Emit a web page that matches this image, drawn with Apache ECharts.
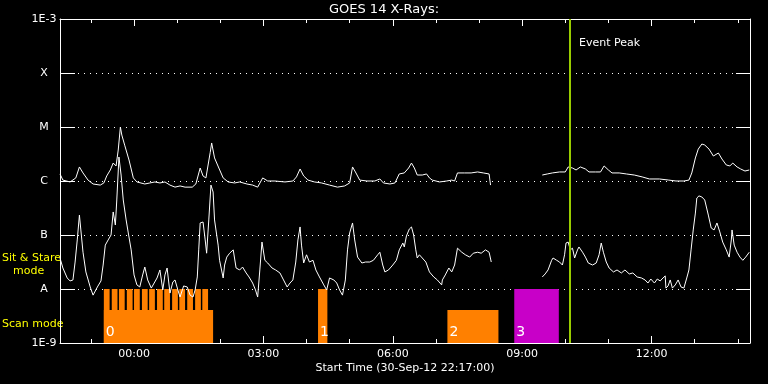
<!DOCTYPE html>
<html>
<head>
<meta charset="utf-8">
<script src="https://cdn.jsdelivr.net/npm/echarts@6/dist/echarts.min.js"></script>
<style>html,body{margin:0;padding:0;background:#000;}#c{width:768px;height:384px;}</style>
</head>
<body>
<div id="c"></div>
<script>
// Time in minutes relative to 01-Oct-12 00:00 (start 30-Sep-12 22:17)
const xMin = -103, xMax = 857;
const majorTicks = [0, 180, 360, 540, 720];
const majorLabels = ['00:00', '03:00', '06:00', '09:00', '12:00'];
const hourTicks = [-60, 0, 60, 120, 180, 240, 300, 360, 420, 480, 540, 600, 660, 720, 780, 840];
const yLabels = {'-3': '1E-3', '-4': 'X', '-5': 'M', '-6': 'C', '-7': 'B', '-8': 'A', '-9': '1E-9'};

// Long channel (1-8 A)
const longT = [
  -103, -99, -89, -81, -76, -71, -64, -57, -47, -42,
  -38, -33, -29, -25, -22, -19, -17, -13, -7, -1,
  4, 15, 22, 29, 36, 43, 50, 57, 64, 71,
  81, 86, 92, 96, 100, 106, 108, 112, 118, 124,
  131, 140, 147, 157, 165, 172, 179, 186, 196, 210,
  221, 226, 231, 236, 242, 251, 261, 272, 283, 293,
  300, 304, 308, 314, 324, 335, 342, 347, 356, 363,
  369, 376, 382, 386, 390, 394, 401, 407, 411, 415,
  425, 435, 442, 446, 450, 460, 469, 478, 486, 494,
  496, 530, 568, 575, 582, 592, 600, 604, 610, 615,
  621, 628, 633, 642, 649, 654, 660, 665, 675, 685,
  696, 707, 717, 731, 744, 754, 765, 772, 776, 781,
  785, 790, 794, 800, 806, 813, 818, 824, 829, 833,
  839, 844, 850, 856];
const longV = [
  1.35e-6, 1.04e-6, 9.6e-7, 1.14e-6, 1.82e-6, 1.41e-6, 1.04e-6, 8.8e-7, 8.4e-7, 9.2e-7,
  1.24e-6, 1.6e-6, 2.15e-6, 1.9e-6, 3.75e-6, 1.0e-5, 7.1e-6, 4.6e-6, 2.45e-6, 1.14e-6,
  9.6e-7, 8.8e-7, 9.2e-7, 9.6e-7, 9.2e-7, 9.6e-7, 8.4e-7, 7.7e-7, 8.1e-7, 7.7e-7,
  7.7e-7, 8.8e-7, 1.74e-6, 1.24e-6, 1.14e-6, 3.4e-6, 5.06e-6, 2.67e-6, 1.74e-6, 1.14e-6,
  9.6e-7, 9.2e-7, 9.6e-7, 8.8e-7, 8.4e-7, 7.7e-7, 1.14e-6, 1.0e-6, 1.0e-6, 9.6e-7,
  1.0e-6, 1.19e-6, 1.67e-6, 1.24e-6, 1.04e-6, 9.6e-7, 9.2e-7, 8.4e-7, 7.7e-7, 8.1e-7,
  9.2e-7, 1.82e-6, 1.47e-6, 1.04e-6, 1.0e-6, 1.0e-6, 1.09e-6, 9.2e-7, 8.8e-7, 9.2e-7,
  1.35e-6, 1.41e-6, 1.74e-6, 2.15e-6, 1.74e-6, 1.29e-6, 1.29e-6, 1.35e-6, 1.14e-6, 1.04e-6,
  9.6e-7, 1.0e-6, 1.04e-6, 1.0e-6, 1.41e-6, 1.41e-6, 1.41e-6, 1.47e-6, 1.41e-6, 1.35e-6,
  8.4e-7, null, 1.29e-6, 1.35e-6, 1.41e-6, 1.47e-6, 1.47e-6, 1.82e-6, 1.74e-6, 1.6e-6,
  1.82e-6, 1.67e-6, 1.47e-6, 1.47e-6, 1.47e-6, 1.9e-6, 1.6e-6, 1.41e-6, 1.41e-6, 1.35e-6,
  1.29e-6, 1.19e-6, 1.09e-6, 1.09e-6, 1.04e-6, 1.0e-6, 1.0e-6, 1.04e-6, 1.41e-6, 2.67e-6,
  3.9e-6, 4.84e-6, 4.64e-6, 3.9e-6, 2.9e-6, 3.3e-6, 2.55e-6, 1.98e-6, 1.9e-6, 2.15e-6,
  1.82e-6, 1.67e-6, 1.53e-6, 1.6e-6];

// Short channel (0.5-4 A)
const shortT = [
  -103, -99, -93, -89, -85, -82, -79, -76, -74, -71,
  -67, -61, -57, -51, -46, -43, -40, -36, -32, -29,
  -26, -24, -21, -18, -15, -11, -8, -4, 0, 4,
  8, 12, 15, 19, 24, 26, 32, 36, 40, 43,
  46, 50, 54, 57, 61, 64, 69, 74, 78, 82,
  85, 88, 90, 92, 96, 99, 101, 104, 107, 110,
  112, 117, 119, 124, 126, 129, 133, 138, 142, 147,
  151, 156, 160, 165, 169, 172, 175, 178, 182, 186,
  192, 197, 203, 208, 213, 217, 221, 225, 228, 231,
  233, 236, 240, 244, 249, 253, 258, 264, 268, 272,
  278, 282, 286, 290, 294, 297, 300, 304, 307, 311,
  317, 322, 328, 333, 339, 342, 346, 349, 354, 360,
  365, 369, 374, 376, 379, 383, 386, 389, 392, 394,
  397, 401, 406, 411, 417, 422, 428, 429, 433, 438,
  442, 446, 450, 456, 461, 467, 472, 478, 483, 489,
  494, 497, 530, 568, 572, 576, 581, 583, 588, 592,
  596, 599, 601, 604, 607, 610, 613, 617, 619, 624,
  628, 632, 638, 643, 647, 650, 653, 657, 661, 667,
  672, 678, 683, 689, 694, 700, 706, 711, 715, 719,
  724, 728, 732, 736, 739, 740, 743, 746, 749, 753,
  757, 761, 765, 769, 772, 775, 778, 781, 783, 786,
  790, 794, 799, 803, 807, 811, 815, 819, 824, 828,
  831, 832, 835, 839, 843, 847, 851, 856];
const shortV = [
  3.75e-8, 2.45e-8, 1.6e-8, 1.41e-8, 1.47e-8, 3.16e-8, 8.1e-8, 2.34e-7, 1.24e-7, 4.8e-8,
  2.07e-8, 1.09e-8, 7.7e-9, 1.09e-8, 1.41e-8, 2.78e-8, 6.5e-8, 8.1e-8, 1.0e-7, 2.67e-7,
  1.53e-7, 4.45e-7, 2.78e-6, 1.29e-6, 4.45e-7, 1.9e-7, 1.09e-7, 5.3e-8, 1.82e-8, 1.19e-8,
  1.09e-8, 1.82e-8, 2.55e-8, 1.47e-8, 1.04e-8, 9.6e-9, 1.6e-8, 2.25e-8, 9.6e-9, 1.82e-8,
  2.45e-8, 8.4e-9, 1.35e-8, 1.47e-8, 9.6e-9, 7.1e-9, 1.14e-8, 1.09e-8, 7.7e-9, 7.1e-9,
  9.6e-9, 1.67e-8, 5.3e-8, 1.67e-7, 1.74e-7, 8.1e-8, 4.6e-8, 1.9e-7, 8.4e-7, 6.25e-7,
  1.9e-7, 6.5e-8, 3.4e-8, 1.6e-8, 2.78e-8, 3.9e-8, 4.6e-8, 5.3e-8, 2.45e-8, 2.25e-8,
  2.55e-8, 1.98e-8, 1.67e-8, 1.29e-8, 9.6e-9, 7.1e-9, 2.25e-8, 7.4e-8, 3.4e-8, 3.03e-8,
  2.45e-8, 2.25e-8, 1.98e-8, 1.47e-8, 1.09e-8, 1.29e-8, 1.47e-8, 3.16e-8, 8.1e-8, 1.41e-7,
  6.5e-8, 3.03e-8, 4.3e-8, 3.16e-8, 3.4e-8, 2.25e-8, 1.67e-8, 1.19e-8, 9.6e-9, 1.6e-8,
  1.47e-8, 1.29e-8, 9.6e-9, 7.7e-9, 1.47e-8, 5.3e-8, 1.09e-7, 1.67e-7, 8.1e-8, 3.9e-8,
  3.03e-8, 3.16e-8, 3.16e-8, 3.4e-8, 4.3e-8, 4.8e-8, 2.78e-8, 2.07e-8, 2.25e-8, 2.78e-8,
  3.4e-8, 5.3e-8, 7.1e-8, 6.0e-8, 9.6e-8, 1.29e-7, 1.41e-7, 1.0e-7, 5.3e-8, 3.75e-8,
  4.3e-8, 3.75e-8, 3.16e-8, 2.07e-8, 1.67e-8, 1.47e-8, 1.19e-8, 1.47e-8, 1.82e-8, 2.45e-8,
  2.07e-8, 2.78e-8, 5.7e-8, 4.8e-8, 4.3e-8, 3.9e-8, 4.6e-8, 4.8e-8, 4.6e-8, 5.3e-8,
  4.8e-8, 3.16e-8, null, 1.67e-8, 1.9e-8, 2.25e-8, 3.4e-8, 3.75e-8, 3.4e-8, 3.16e-8,
  2.78e-8, 4.3e-8, 7.1e-8, 7.4e-8, 5.3e-8, 5.7e-8, 3.75e-8, 5.3e-8, 6.0e-8, 4.8e-8,
  3.9e-8, 3.03e-8, 2.78e-8, 3.03e-8, 4.3e-8, 7.1e-8, 4.8e-8, 3.16e-8, 2.45e-8, 2.07e-8,
  2.25e-8, 1.98e-8, 2.25e-8, 1.9e-8, 1.98e-8, 1.67e-8, 1.6e-8, 1.47e-8, 1.29e-8, 1.53e-8,
  1.29e-8, 1.53e-8, 1.41e-8, 1.6e-8, 1.75e-8, 1.04e-8, 1.14e-8, 1.47e-8, 1.04e-8, 1.19e-8,
  1.47e-8, 1.09e-8, 1.04e-8, 1.6e-8, 2.25e-8, 5.3e-8, 1.24e-7, 2.55e-7, 4.84e-7, 5.3e-7,
  5.06e-7, 4.45e-7, 2.34e-7, 1.35e-7, 1.24e-7, 1.67e-7, 1.14e-7, 7.4e-8, 5.3e-8, 3.9e-8,
  8.1e-8, 1.24e-7, 6.5e-8, 4.8e-8, 3.9e-8, 3.4e-8, 3.9e-8, 4.8e-8];

// Observation mode blocks: start, end, top level, segment number
const blockStart = [-42, -42, -31, -21, -10, 0, 11, 21, 32, 42, 53, 63, 74, 85, 95, 256, 436, 529];
const blockEnd   = [110, -34, -23, -13, -2, 8, 19, 29, 40, 50, 61, 71, 82, 93, 103, 269, 507, 591];
const blockTop   = [4.1e-9, 1e-8, 1e-8, 1e-8, 1e-8, 1e-8, 1e-8, 1e-8, 1e-8, 1e-8, 1e-8, 1e-8, 1e-8, 1e-8, 1e-8, 1e-8, 4.1e-9, 1e-8];
const blockSeg   = [0, 0, 0, 0, 0, 0, 0, 0, 0, 0, 0, 0, 0, 0, 0, 1, 2, 3];
const segLabelStart = [-42, 256, 436, 529];
const segLabels = ['0', '1', '2', '3'];
const eventPeak = 606;

const FONT = 'DejaVu Sans';
const pair = (ts, vs) => ts.map((t, i) => [t, vs[i] == null ? '-' : vs[i]]);
const hhmm = v => majorLabels[majorTicks.indexOf(v)] || '';

function xAx(pos, ticks, len, showLine, showLabel) {
  return {
    type: 'value', min: xMin, max: xMax, position: pos,
    axisLine: {show: showLine, onZero: false, lineStyle: {color: '#fff', width: 1}},
    axisTick: {show: true, inside: true, length: len, customValues: ticks, lineStyle: {color: '#fff', width: 1}},
    axisLabel: {show: showLabel, customValues: majorTicks, formatter: hhmm, color: '#fff', fontFamily: FONT, fontSize: 11, margin: 6},
    splitLine: {show: false}
  };
}
function yAx(pos, len, showLabel, split) {
  return {
    type: 'log', logBase: 10, min: 1e-9, max: 1e-3, position: pos,
    axisLine: {show: true, onZero: false, lineStyle: {color: '#fff', width: 1}},
    axisTick: {show: true, inside: true, length: len, lineStyle: {color: '#fff', width: 1}},
    axisLabel: {show: showLabel, color: '#fff', fontFamily: FONT, fontSize: 11, margin: 16, align: 'center',
      formatter: v => yLabels[String(Math.round(Math.log10(v)))] || ''},
    splitLine: {show: split, lineStyle: {color: '#fff', width: 1, type: [1, 5]}},
    minorTick: {show: false}
  };
}

const chart = echarts.init(document.getElementById('c'), null, {renderer: 'canvas'});
chart.setOption({
  backgroundColor: '#000',
  animation: false,
  grid: {left: 60, right: 18, top: 19, bottom: 41, show: false},
  xAxis: [
    xAx('bottom', majorTicks, 7, true, true),
    xAx('bottom', hourTicks, 4, false, false),
    xAx('top', majorTicks, 7, true, false),
    xAx('top', hourTicks, 4, false, false)
  ],
  yAxis: [
    yAx('left', 15, true, true),
    yAx('right', 14, false, false)
  ],
  series: [
    {
      type: 'custom', xAxisIndex: 0, yAxisIndex: 0, z: 1, silent: true,
      data: blockStart.map((s, i) => [s, blockEnd[i], blockTop[i], blockSeg[i]]),
      renderItem: (params, api) => {
        const p0 = api.coord([api.value(0), api.value(2)]);
        const p1 = api.coord([api.value(1), 1e-9]);
        return {type: 'rect', shape: {x: p0[0], y: p0[1], width: p1[0] - p0[0], height: p1[1] - p0[1]},
          style: {fill: api.value(3) === 3 ? '#c800c8' : '#ff8000'}};
      }
    },
    {
      type: 'custom', xAxisIndex: 0, yAxisIndex: 0, z: 2, silent: true,
      data: segLabelStart.map((s, i) => [s, i]),
      renderItem: (params, api) => {
        const p = api.coord([api.value(0), 1e-9]);
        return {type: 'text', x: p[0] + 2, y: p[1] - 4,
          style: {text: segLabels[api.value(1)], fill: '#fff', font: '14px ' + FONT, textAlign: 'left', textVerticalAlign: 'bottom'}};
      }
    },
    {
      type: 'line', xAxisIndex: 0, yAxisIndex: 0, z: 3, data: pair(longT, longV),
      showSymbol: false, connectNulls: false, lineStyle: {color: '#fff', width: 1}, silent: true,
      markLine: {silent: true, symbol: 'none', label: {show: false},
        lineStyle: {color: '#99cc00', width: 2, type: 'solid'}, data: [{xAxis: eventPeak}]}
    },
    {
      type: 'line', xAxisIndex: 0, yAxisIndex: 0, z: 3, data: pair(shortT, shortV),
      showSymbol: false, connectNulls: false, lineStyle: {color: '#fff', width: 1}, silent: true
    }
  ],
  graphic: [
    {type: 'text', left: 'center', x: 0, top: 3, style: {text: 'GOES 14 X-Rays:', fill: '#fff', font: '13px ' + FONT}},
    {type: 'text', x: 579, y: 43, style: {text: 'Event Peak', fill: '#fff', font: '11px ' + FONT, textVerticalAlign: 'middle'}},
    {type: 'text', x: 405, y: 368, style: {text: 'Start Time (30-Sep-12 22:17:00)', fill: '#fff', font: '11px ' + FONT, textAlign: 'center', textVerticalAlign: 'middle'}},
    {type: 'text', x: 2, y: 258, style: {text: 'Sit & Stare', fill: '#ffff00', font: '11px ' + FONT, textVerticalAlign: 'middle'}},
    {type: 'text', x: 13, y: 271, style: {text: 'mode', fill: '#ffff00', font: '11px ' + FONT, textVerticalAlign: 'middle'}},
    {type: 'text', x: 2, y: 324, style: {text: 'Scan mode', fill: '#ffff00', font: '11px ' + FONT, textVerticalAlign: 'middle'}}
  ]
});
</script>
</body>
</html>
